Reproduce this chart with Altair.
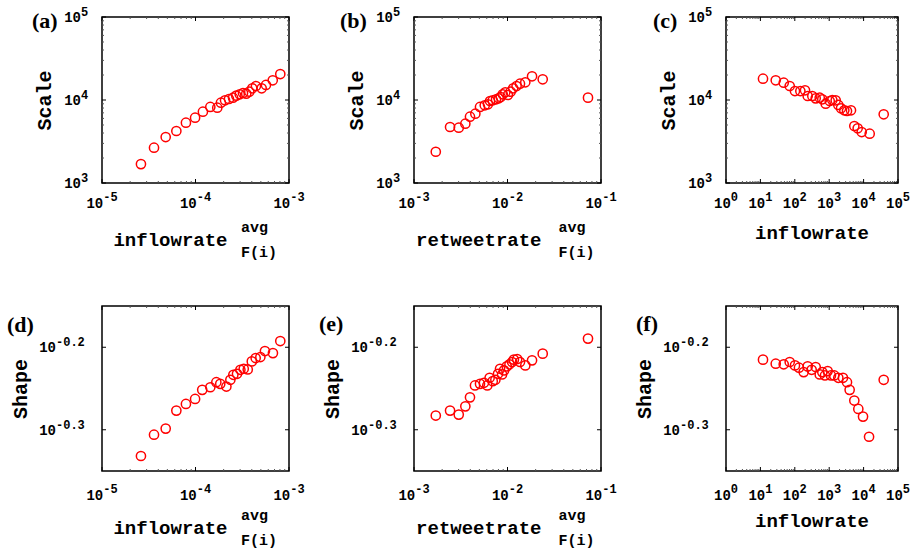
import altair as alt
import pandas as pd

# ---------------- data ----------------
a_x = [2.61e-5, 3.6e-5, 4.8e-5, 6.24e-5, 7.9e-5, 9.9e-5, 1.2e-4, 1.44e-4, 1.71e-4, 1.87e-4,
       2.07e-4, 2.28e-4, 2.52e-4, 2.73e-4, 2.97e-4, 3.22e-4, 3.49e-4, 3.76e-4, 4.05e-4, 4.43e-4,
       5.1e-4, 5.67e-4, 6.7e-4, 8.07e-4]
a_y = [1690, 2660, 3580, 4230, 5330, 6120, 7230, 8240, 8080, 9270, 9910, 10280, 10660, 11280,
       11720, 12140, 11910, 12590, 13840, 14750, 13840, 15170, 17270, 20560]

b_x = [1.71e-3, 2.43e-3, 3.01e-3, 3.54e-3, 3.97e-3, 4.53e-3, 5.08e-3, 5.71e-3, 6.18e-3, 6.5e-3,
       6.95e-3, 7.54e-3, 8.05e-3, 8.46e-3, 8.89e-3, 9.47e-3, 1.01e-2, 1.08e-2, 1.15e-2, 1.25e-2,
       1.36e-2, 1.55e-2, 1.83e-2, 2.38e-2, 7.26e-2]
b_y = [2380, 4730, 4640, 5180, 6290, 6840, 8240, 8630, 8880, 9730, 9910, 10190, 10480, 10860,
       11710, 12380, 11490, 12590, 13830, 14750, 15720, 16330, 19300, 17750, 10670]

c_x = [11.9, 27.9, 47.6, 71.1, 101, 145, 198, 237, 323, 405, 530, 630, 791, 1035, 1231, 1545,
       1840, 2204, 2750, 3290, 4300, 5370, 6730, 8810, 15030, 38400]
c_y = [18070, 17260, 16150, 14750, 12830, 12830, 13090, 11170, 11170, 10470, 10660, 10190, 9020,
       9730, 10000, 9910, 8710, 7940, 7510, 7370, 7510, 4860, 4560, 4110, 3930, 6730]

d_x = [2.61e-5, 3.6e-5, 4.8e-5, 6.24e-5, 7.9e-5, 9.9e-5, 1.18e-4, 1.44e-4, 1.67e-4, 1.84e-4,
       2.14e-4, 2.36e-4, 2.54e-4, 2.78e-4, 3.02e-4, 3.28e-4, 3.62e-4, 4.0e-4, 4.4e-4, 4.94e-4,
       5.53e-4, 6.73e-4, 8.07e-4]
d_y = [0.4658, 0.4943, 0.5028, 0.5287, 0.5386, 0.5462, 0.5602, 0.5643, 0.5723, 0.5697, 0.5654,
       0.5762, 0.5843, 0.5859, 0.5925, 0.5942, 0.5930, 0.6065, 0.6122, 0.6139, 0.6243, 0.6207,
       0.6420]

e_x = [1.71e-3, 2.43e-3, 3.01e-3, 3.54e-3, 3.97e-3, 4.49e-3, 5.08e-3, 5.6e-3, 6.08e-3, 6.44e-3,
       6.95e-3, 7.42e-3, 7.92e-3, 8.32e-3, 8.74e-3, 9.18e-3, 9.81e-3, 1.05e-2, 1.12e-2, 1.17e-2,
       1.27e-2, 1.36e-2, 1.55e-2, 1.83e-2, 2.38e-2, 7.26e-2]
e_y = [0.5214, 0.5287, 0.5228, 0.5350, 0.5486, 0.5671, 0.5697, 0.5714, 0.5671, 0.5794, 0.5740,
       0.5762, 0.5859, 0.5942, 0.5848, 0.5915, 0.5981, 0.6016, 0.6055, 0.6095, 0.6105, 0.6055,
       0.5998, 0.6083, 0.6198, 0.6464]

f_x = [11.9, 27.9, 47.6, 71.1, 101, 132, 181, 237, 309, 405, 530, 630, 753, 901, 1123, 1400,
       1840, 2514, 3290, 3930, 5370, 7020, 9620, 14410, 38400]
f_y = [0.6095, 0.6026, 0.6016, 0.6055, 0.5998, 0.5960, 0.5887, 0.5981, 0.5925, 0.5970, 0.5848,
       0.5887, 0.5832, 0.5903, 0.5832, 0.5832, 0.5794, 0.5794, 0.5723, 0.5602, 0.5437, 0.5311,
       0.5199, 0.4915, 0.5762]

# tick exponents (labels are "10" with the exponent raised)
x_exp_a = ["-5", "-4", "-3"]
x_exp_b = ["-3", "-2", "-1"]
x_exp_c = ["0", "1", "2", "3", "4", "5"]
y_exp_scale = ["3", "4", "5"]
y_exp_shape = ["-0.3", "-0.2"]
minor_mult = [2, 3, 4, 5, 6, 7, 8, 9]
tick_base = "10"

panel_labels = ["(a)", "(b)", "(c)", "(d)", "(e)", "(f)"]
y_titles = ["Scale", "Shape"]
x_words = ["inflowrate", "retweetrate", "inflowrate"]
sup_text = "avg"
sub_text = "F(i)"

# ---------------- styling ----------------
MONO = "Liberation Mono"
SERIF = "Liberation Serif"
RED = "#ff0000"
BASE_FS = 14
EXP_FS = 12


def minor_ticks(exps):
    lo, hi = int(float(exps[0])), int(float(exps[-1]))
    return [m * 10.0 ** k for k in range(lo, hi) for m in minor_mult]


def txt(t, x, y, font, size, align, baseline):
    return alt.Chart(pd.DataFrame({"t": [t]})).mark_text(
        font=font, fontSize=size, fontWeight="bold", align=align, baseline=baseline, color="black"
    ).encode(x=alt.value(x), y=alt.value(y), text="t:N")


def panel(xs, ys, xexps, yexps, ydomain, ytitle, width, height, row, label, lab_x, lab_y,
          word, word_kind):
    xdomain = [10 ** float(xexps[0]), 10 ** float(xexps[-1])]
    xscale = alt.Scale(type="log", domain=xdomain, nice=False)
    yscale = alt.Scale(type="log", domain=ydomain, nice=False)
    xvals = [10 ** float(e) for e in xexps]
    yvals = [10 ** float(e) for e in yexps]
    xaxis = alt.Axis(values=xvals, labels=False, title=None)
    yaxis = alt.Axis(values=yvals, labels=False, title=ytitle,
                     titleX=-58 if row == 0 else -82, titleY=height / 2, titleAngle=270,
                     titleAlign="center", titleBaseline="middle")
    X = alt.X("x:Q", scale=xscale, axis=xaxis)
    Y = alt.Y("y:Q", scale=yscale, axis=yaxis)

    df = pd.DataFrame({"x": xs, "y": ys})
    pts = alt.Chart(df).mark_point(
        shape="circle", filled=False, color=RED, size=85, strokeWidth=1.5, opacity=1
    ).encode(x=X, y=Y)

    # inward ticks on the frame
    xt = alt.Chart(pd.DataFrame({"x": xvals}))
    xm = alt.Chart(pd.DataFrame({"x": minor_ticks(xexps)}))
    yt = alt.Chart(pd.DataFrame({"y": yvals}))
    layers = []
    for src, ln, col in [(xt, 4, "black"), (xm, 2, "#555555")]:
        layers.append(src.mark_rule(color=col, strokeWidth=1).encode(
            x=X, y=alt.value(height), y2=alt.value(height - ln)))
        layers.append(src.mark_rule(color=col, strokeWidth=1).encode(
            x=X, y=alt.value(0), y2=alt.value(ln)))
    ysrcs = [(yt, 4, "black")]
    if row == 0:
        ysrcs.append((alt.Chart(pd.DataFrame({"y": minor_ticks(yexps)})), 2, "#555555"))
    for src, ln, col in ysrcs:
        layers.append(src.mark_rule(color=col, strokeWidth=1).encode(
            y=Y, x=alt.value(0), x2=alt.value(ln)))
        layers.append(src.mark_rule(color=col, strokeWidth=1).encode(
            y=Y, x=alt.value(width), x2=alt.value(width - ln)))

    # tick labels: "10" plus a raised exponent, placed through the scales
    xl = alt.Chart(pd.DataFrame({"x": xvals, "e": xexps}))
    base_w = len(tick_base) * 0.6 * BASE_FS
    exp_w = max(len(e) for e in xexps) * 0.6 * EXP_FS
    dxl = (base_w - exp_w) / 2
    yb = height + (25 if row == 0 else 29)
    layers.append(xl.mark_text(font=MONO, fontSize=BASE_FS, fontWeight="bold", color="black",
                               align="right", baseline="alphabetic", dx=dxl).encode(
        x=X, y=alt.value(yb), text=alt.value(tick_base)))
    layers.append(xl.mark_text(font=MONO, fontSize=EXP_FS, fontWeight="bold", color="black",
                               align="left", baseline="alphabetic", dx=dxl).encode(
        x=X, y=alt.value(yb - 7), text="e:N"))
    yl = alt.Chart(pd.DataFrame({"y": yvals, "e": yexps}))
    xe = -21 if row == 0 else -46
    layers.append(yl.mark_text(font=MONO, fontSize=BASE_FS, fontWeight="bold", color="black",
                               align="right", baseline="alphabetic", dy=5).encode(
        y=Y, x=alt.value(xe), text=alt.value(tick_base)))
    layers.append(yl.mark_text(font=MONO, fontSize=EXP_FS, fontWeight="bold", color="black",
                               align="left", baseline="alphabetic", dy=-1).encode(
        y=Y, x=alt.value(xe), text="e:N"))

    cx = width / 2
    texts = [txt(label, lab_x, lab_y, SERIF, 22, "left", "top")]
    if word_kind == "plain":
        texts.append(txt(word, cx, height + 56, MONO, 19, "center", "alphabetic"))
    else:
        r_off, s_off = word_kind
        texts.append(txt(word, cx + r_off, height + 63, MONO, 19, "right", "alphabetic"))
        texts.append(txt(sup_text, cx + s_off, height + 49, MONO, 15, "left", "alphabetic"))
        texts.append(txt(sub_text, cx + s_off, height + 74, MONO, 15, "left", "alphabetic"))
    return alt.layer(pts, *layers, *texts).properties(width=width, height=height)


top_dom = [1e3, 1e5]
bot_dom = [10 ** -0.35, 10 ** -0.15]

pa = panel(a_x, a_y, x_exp_a, y_exp_scale, top_dom, y_titles[0], 187, 166, 0, panel_labels[0], -70, -6, x_words[0], (32, 45.5))
pb = panel(b_x, b_y, x_exp_b, y_exp_scale, top_dom, y_titles[0], 187, 166, 0, panel_labels[1], -74, -6, x_words[1], (34, 51))
pc = panel(c_x, c_y, x_exp_c, y_exp_scale, top_dom, y_titles[0], 172, 166, 0, panel_labels[2], -73, -6, x_words[2], "plain")
pd_ = panel(d_x, d_y, x_exp_a, y_exp_shape, bot_dom, y_titles[1], 187, 165, 1, panel_labels[3], -95, 9, x_words[0], (32, 45.5))
pe = panel(e_x, e_y, x_exp_b, y_exp_shape, bot_dom, y_titles[1], 187, 165, 1, panel_labels[4], -95, 8, x_words[1], (34, 51))
pf = panel(f_x, f_y, x_exp_c, y_exp_shape, bot_dom, y_titles[1], 172, 165, 1, panel_labels[5], -90, 8, x_words[2], "plain")

chart = alt.concat(
    pa, pb, pc, pd_, pe, pf, columns=3, spacing={"row": 123, "column": 125}, bounds="flush"
).configure_view(
    stroke="black", strokeWidth=1.5
).configure_axis(
    titleFont=MONO, titleFontSize=20, titleFontWeight="bold", titleColor="black",
    domain=False, ticks=False, tickSize=0, grid=False,
).properties(
    padding={"left": 6, "top": 5, "right": 5, "bottom": 0}, background="white"
)

chart.save("out.html", embed_options={"renderer": "svg", "actions": False})
